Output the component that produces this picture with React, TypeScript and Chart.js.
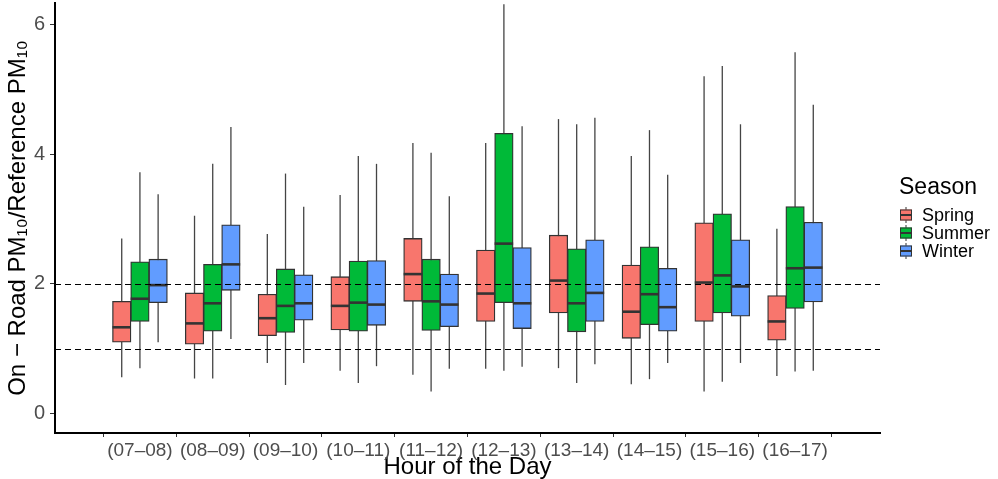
import React, { useEffect, useRef } from 'react';
import { Chart, registerables } from 'chart.js';

Chart.register(...registerables);

const FONT = "'Liberation Sans', Arial, Helvetica, sans-serif";

const categories = ['(07–08)', '(08–09)', '(09–10)', '(10–11)', '(11–12)', '(12–13)', '(13–14)', '(14–15)', '(15–16)', '(16–17)'];
const seasons = ['Spring', 'Summer', 'Winter'];
const seasonColors = ['#F8766D', '#00BA38', '#619CFF'];
const yTickValues = [0, 2, 4, 6];
const referenceLines = [1, 2];

const springLow = [0.56, 0.54, 0.78, 0.66, 0.60, 0.69, 0.70, 0.45, 0.34, 0.58];
const springQ1 = [1.10, 1.07, 1.20, 1.29, 1.73, 1.42, 1.55, 1.16, 1.42, 1.13];
const springMedian = [1.33, 1.39, 1.47, 1.66, 2.15, 1.85, 2.05, 1.57, 2.02, 1.42];
const springQ3 = [1.73, 1.86, 1.84, 2.11, 2.70, 2.52, 2.75, 2.29, 2.94, 1.82];
const springHigh = [2.70, 3.05, 2.77, 3.37, 4.17, 4.17, 4.54, 3.97, 5.20, 2.85];

const summerLow = [0.70, 0.54, 0.44, 0.47, 0.34, 0.66, 0.47, 0.53, 0.49, 0.65];
const summerQ1 = [1.42, 1.27, 1.25, 1.27, 1.28, 1.71, 1.26, 1.37, 1.55, 1.62];
const summerMedian = [1.77, 1.70, 1.66, 1.71, 1.73, 2.62, 1.70, 1.84, 2.13, 2.24];
const summerQ3 = [2.34, 2.30, 2.23, 2.35, 2.38, 4.32, 2.54, 2.57, 3.08, 3.19];
const summerHigh = [3.72, 3.85, 3.70, 3.97, 4.02, 6.31, 4.46, 4.37, 5.36, 5.57];

const winterLow = [1.10, 1.15, 0.78, 0.73, 0.69, 0.72, 0.76, 0.78, 0.78, 0.66];
const winterQ1 = [1.71, 1.90, 1.44, 1.36, 1.34, 1.31, 1.42, 1.27, 1.50, 1.72];
const winterMedian = [1.98, 2.30, 1.70, 1.68, 1.68, 1.70, 1.86, 1.64, 1.96, 2.25];
const winterQ3 = [2.38, 2.91, 2.14, 2.36, 2.15, 2.56, 2.68, 2.24, 2.68, 2.95];
const winterHigh = [3.38, 4.42, 3.19, 3.85, 3.35, 4.43, 4.56, 3.68, 4.46, 4.76];

const seriesStats = [
  { low: springLow, q1: springQ1, median: springMedian, q3: springQ3, high: springHigh },
  { low: summerLow, q1: summerQ1, median: summerMedian, q3: summerQ3, high: summerHigh },
  { low: winterLow, q1: winterQ1, median: winterMedian, q3: winterQ3, high: winterHigh },
];
const dodge = [-0.25, 0, 0.25];

const boxExtras = {
  id: 'boxExtras',
  beforeDatasetsDraw(chart: any) {
    const { ctx, scales } = chart;
    const y = scales.y;
    ctx.save();
    ctx.strokeStyle = '#444444';
    ctx.lineWidth = 1.3;
    seriesStats.forEach((s, di) => {
      const meta = chart.getDatasetMeta(di);
      meta.data.forEach((bar: any, i: number) => {
        ctx.beginPath();
        ctx.moveTo(bar.x, y.getPixelForValue(s.high[i]));
        ctx.lineTo(bar.x, y.getPixelForValue(s.low[i]));
        ctx.stroke();
      });
    });
    ctx.restore();
  },
  afterDatasetsDraw(chart: any) {
    const { ctx, scales, chartArea } = chart;
    const y = scales.y;
    ctx.save();
    ctx.strokeStyle = '#333333';
    ctx.lineWidth = 2.6;
    seriesStats.forEach((s, di) => {
      const meta = chart.getDatasetMeta(di);
      meta.data.forEach((bar: any, i: number) => {
        const py = y.getPixelForValue(s.median[i]);
        const w = bar.width / 2;
        ctx.beginPath();
        ctx.moveTo(bar.x - w, py);
        ctx.lineTo(bar.x + w, py);
        ctx.stroke();
      });
    });
    ctx.strokeStyle = '#000000';
    ctx.lineWidth = 1.2;
    ctx.setLineDash([6, 4]);
    referenceLines.forEach((v) => {
      const py = Math.round(y.getPixelForValue(v)) + 0.5;
      ctx.beginPath();
      ctx.moveTo(chartArea.left, py);
      ctx.lineTo(chartArea.right, py);
      ctx.stroke();
    });
    ctx.restore();
  },
  afterDraw(chart: any) {
    const { ctx, chartArea } = chart;
    const mid = (chartArea.top + chartArea.bottom) / 2;
    const x0 = chartArea.right + 19;
    ctx.save();
    ctx.fillStyle = '#000000';
    ctx.textBaseline = 'middle';
    ctx.textAlign = 'left';
    ctx.font = `23px ${FONT}`;
    ctx.fillText('Season', x0, mid - 30);
    ctx.font = `18px ${FONT}`;
    seasons.forEach((name, i) => {
      const cy = mid - 3 + i * 18;
      const kx = x0 + 1;
      ctx.strokeStyle = '#333333';
      ctx.lineWidth = 1;
      ctx.beginPath();
      ctx.moveTo(kx + 6, cy - 8);
      ctx.lineTo(kx + 6, cy + 8);
      ctx.stroke();
      ctx.fillStyle = seasonColors[i];
      ctx.fillRect(kx, cy - 5.5, 12, 11);
      ctx.strokeRect(kx + 0.5, cy - 5, 11, 10);
      ctx.lineWidth = 2;
      ctx.beginPath();
      ctx.moveTo(kx, cy);
      ctx.lineTo(kx + 12, cy);
      ctx.stroke();
      ctx.fillStyle = '#000000';
      ctx.fillText(name, x0 + 23, cy + 1);
    });
    ctx.restore();
  },
};

export default function App() {
  const canvasRef = useRef<HTMLCanvasElement | null>(null);

  useEffect(() => {
    document.body.style.margin = '0';
    const canvas = canvasRef.current;
    if (!canvas) return;
    Chart.defaults.font.family = FONT;
    const chart = new Chart(canvas, {
      type: 'bar',
      data: {
        datasets: seasons.map((name, si) => ({
          label: name,
          data: categories.map((_, i) => ({
            x: i + dodge[si],
            y: [seriesStats[si].q1[i], seriesStats[si].q3[i]],
          })) as any,
          backgroundColor: seasonColors[si],
          borderColor: '#333333',
          borderWidth: 1.3,
          borderSkipped: false,
          barThickness: 18.5,
          grouped: false,
        })),
      },
      options: {
        responsive: false,
        animation: false,
        devicePixelRatio: 1,
        layout: { padding: { top: 3, right: 118, left: 0, bottom: 0 } },
        plugins: {
          legend: { display: false },
          tooltip: { enabled: false },
        },
        scales: {
          x: {
            type: 'linear',
            min: -0.6,
            max: 9.6,
            afterBuildTicks: (s: any) => {
              s.ticks = categories.map((_, i) => ({ value: i }));
            },
            afterFit: (s: any) => {
              s.height = 46;
              s.paddingLeft = 0;
              s.paddingRight = 0;
            },
            grid: { display: true, drawOnChartArea: false, drawTicks: true, tickLength: 4, color: '#333333' },
            border: { display: true, color: '#000000', width: 2 },
            ticks: {
              autoSkip: false,
              maxRotation: 0,
              padding: 2,
              color: '#4d4d4d',
              font: { size: 19, family: FONT },
              callback: (v: any) => categories[v] ?? '',
            },
            title: {
              display: true,
              text: 'Hour of the Day',
              color: '#000000',
              font: { size: 24, family: FONT, lineHeight: 1 },
              padding: { top: 0, bottom: 0 },
            },
          },
          y: {
            min: -0.3,
            max: 6.33,
            afterBuildTicks: (s: any) => {
              s.ticks = yTickValues.map((v) => ({ value: v }));
            },
            afterFit: (s: any) => {
              s.width = 55;
              s.paddingTop = 0;
              s.paddingBottom = 0;
            },
            grid: { display: true, drawOnChartArea: false, drawTicks: true, tickLength: 5, color: '#333333' },
            border: { display: true, color: '#000000', width: 2 },
            ticks: {
              padding: 5,
              color: '#4d4d4d',
              font: { size: 20, family: FONT },
              callback: (v: any) => String(v),
            },
            title: {
              display: true,
              text: 'On − Road PM₁₀/Reference PM₁₀',
              color: '#000000',
              font: { size: 24, family: FONT, lineHeight: 1 },
              padding: { top: 6, bottom: 0 },
            },
          },
        },
      },
      plugins: [boxExtras],
    });
    return () => chart.destroy();
  }, []);

  return (
    <div style={{ width: 998, height: 479 }}>
      <canvas ref={canvasRef} width={998} height={479} style={{ display: 'block' }} />
    </div>
  );
}
